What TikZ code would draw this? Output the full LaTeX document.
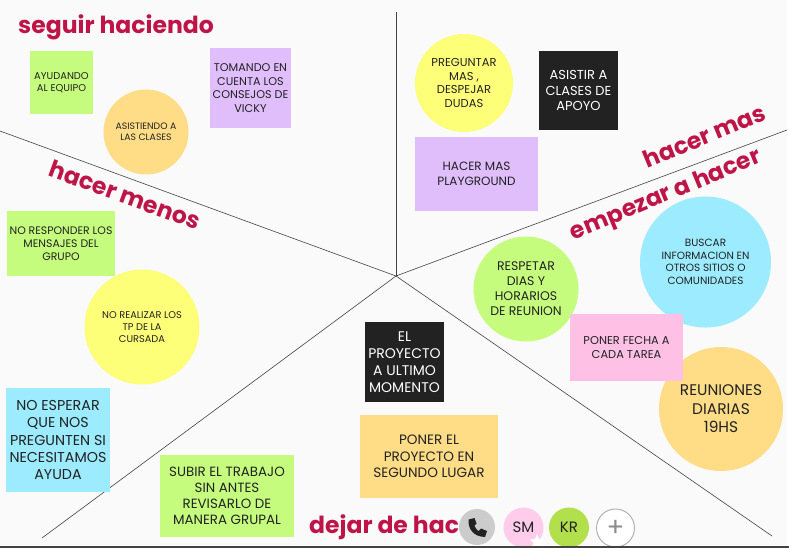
\documentclass[tikz,border=0pt]{standalone}
\usepackage{fontspec}
\setmainfont{Poppins}
\usetikzlibrary{arrows.meta,positioning,calc,shapes.geometric}
\definecolor{wine}{HTML}{BE1447}
\definecolor{lime}{HTML}{C6FC7E}
\definecolor{lila}{HTML}{E0BDFB}
\definecolor{melon}{HTML}{FFDD87}
\definecolor{lemon}{HTML}{FEFF78}
\definecolor{sky}{HTML}{9CEBFF}
\definecolor{rosa}{HTML}{FFC0E6}
\definecolor{ink}{HTML}{222222}
\definecolor{paper}{HTML}{FAFAFA}
\definecolor{moss}{HTML}{B2E04C}
\tikzset{
  every node/.append style={align=center, text=ink, inner sep=0pt},
  title/.style={font=\fontsize{23.5}{25}\selectfont\bfseries, text=wine},
  divider/.style={draw=ink!85, line width=0.6pt},
  avatar/.style={circle, minimum size=40pt, font=\fontsize{15}{16}\selectfont}
}
\begin{document}
\begin{tikzpicture}[x=1pt, y=-1pt,
  txt/.style={font={\pgfmathsetmacro\lead{1.2*#1}\fontsize{#1}{\lead}\selectfont}}
]
\useasboundingbox (0,0) rectangle (789,548);
\fill[white] (0,0) rectangle (789,548);
\fill[paper] (0,0) rectangle (787,545);

% Dividers
\coordinate (hub) at (396,276);
\coordinate (top) at (396,12);
\coordinate (ne) at (787,130);
\coordinate (nw) at (0,131);
\coordinate (se) at (772,536);
\coordinate (sw) at (42,538);
\foreach \tip in {top,ne,nw,se,sw}
  \draw[divider] (hub) -- (\tip);

% Section titles
\node[title] (seguir) at (116,27) {seguir haciendo};
\node[title, rotate=-20] (menos) at (125,195) {hacer menos};
\node[title, rotate=22.5] (mas) at (704.5,136) {hacer mas};
\node[title, rotate=22.5] (empezar) at (666,196) {empezar a hacer};
\node[title, anchor=west] (dejar) at (309,527) {dejar de hac};

% seguir haciendo
\node[fill=lime, minimum width=63pt, minimum height=63pt, txt=9.9] (ayudando) at (61.5,82.5) {AYUDANDO\\AL EQUIPO};
\node[fill=melon, circle, minimum size=85pt, txt=9.3] (asistiendo) at (146,132) {ASISTIENDO A\\LAS CLASES};
\node[fill=lila, minimum width=81pt, minimum height=80pt, txt=11.2] (consejos) at (250.5,88) {TOMANDO EN\\CUENTA LOS\\CONSEJOS DE\\VICKY};

% hacer mas
\node[fill=lemon, circle, minimum size=98pt, txt=11.5] (preguntar) at (464,83) {PREGUNTAR\\MAS ,\\DESPEJAR\\DUDAS};
\node[fill=ink, minimum width=79pt, minimum height=79pt, txt=13, text=white] (apoyo) at (578.5,90.5) {ASISTIR A\\CLASES DE\\APOYO};
\node[fill=lila, minimum width=123pt, minimum height=74pt, txt=12] (playground) at (476.5,174) {HACER MAS\\PLAYGROUND};

% empezar a hacer
\node[fill=sky, circle, minimum size=131pt, txt=10.5] (buscar) at (705.5,262) {BUSCAR\\INFORMACION EN\\OTROS SITIOS O\\COMUNIDADES};
\node[fill=lime, circle, minimum size=105pt, txt=12.5] (respetar) at (526,289) {RESPETAR\\DIAS Y\\HORARIOS\\DE REUNION};
\node[fill=melon, circle, minimum size=124pt, txt=15.4] (reuniones) at (721,409) {REUNIONES\\DIARIAS\\19HS};
\node[fill=rosa, minimum width=113pt, minimum height=67pt, txt=11.4] (fecha) at (626.5,347.5) {PONER FECHA A\\CADA TAREA};

% dejar de hacer
\node[fill=ink, minimum width=79pt, minimum height=80pt, txt=14, text=white] (momento) at (404.5,362) {EL\\PROYECTO\\A ULTIMO\\MOMENTO};
\node[fill=melon, minimum width=138pt, minimum height=83pt, txt=13.6] (segundo) at (429,456.5) {PONER EL\\PROYECTO EN\\SEGUNDO LUGAR};
\node[fill=lime, minimum width=134pt, minimum height=82pt, txt=13.4] (subir) at (227,496) {SUBIR EL TRABAJO\\SIN ANTES\\REVISARLO DE\\MANERA GRUPAL};

% hacer menos
\node[fill=lime, minimum width=108pt, minimum height=65pt, txt=10.9] (responder) at (61,243.5) {NO RESPONDER LOS\\MENSAJES DEL\\GRUPO};
\node[fill=lemon, circle, minimum size=115pt, txt=9.8] (realizar) at (142,327) {NO REALIZAR LOS\\TP DE LA\\CURSADA};
\node[fill=sky, minimum width=104pt, minimum height=104pt, txt=14.3] (esperar) at (58,440) {NO ESPERAR\\QUE NOS\\PREGUNTEN SI\\NECESITAMOS\\AYUDA};

% Call bar
\node[avatar, fill=black!20, minimum size=36pt] (phone) at (477,527) {};
\fill[ink] (468.5,519.5) .. controls (468,530) and (474,536.5) .. (485,537)
  -- (487,531) -- (481,528.5) -- (478.5,531) .. controls (476.5,530) and (475,527.5) .. (474.5,525.5)
  -- (476.5,523.5) -- (474.5,518) -- cycle;
\node[avatar, fill=rosa!80!white] (sm) at (523.5,527.5) {SM};
% white star badge, points given by hand
\fill[white] (537,534) -- (539,539) -- (544,539.5) -- (540.5,543) -- (541.5,548) -- (537,545.5)
  -- (532.5,548) -- (533.5,543) -- (530,539.5) -- (535,539) -- cycle;
\node[avatar, fill=moss] (kr) at (569,527.5) {KR};
\node[avatar, draw=black!30, line width=1pt, fill=white, minimum size=38pt, text=black!45, font=\fontsize{26}{26}\selectfont] (plus) at (615.5,528) {+};
\fill[ink!85] (0,545.5) rectangle (789,548);
\end{tikzpicture}
\end{document}
